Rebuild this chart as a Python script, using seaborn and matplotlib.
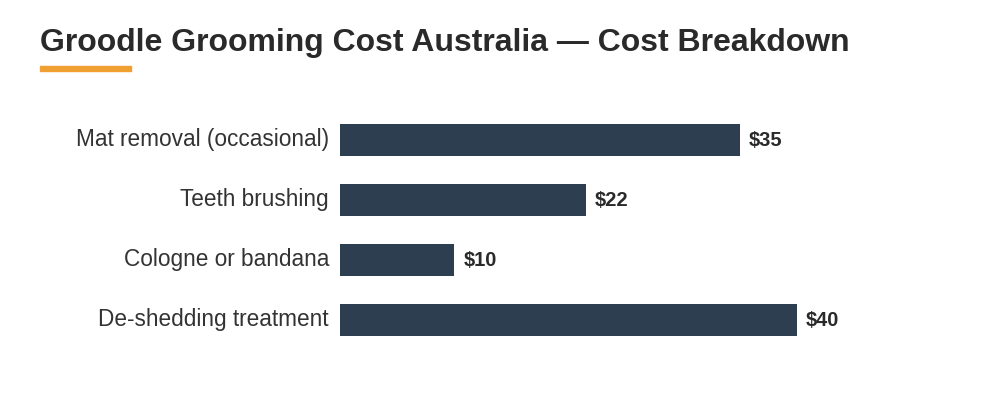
import matplotlib
matplotlib.use('Agg')
import matplotlib.pyplot as plt
import matplotlib.transforms as mtransforms
import seaborn as sns
import pandas as pd

# chart data
services = ['Mat removal (occasional)', 'Teeth brushing', 'Cologne or bandana', 'De-shedding treatment']
costs = [35, 21.5, 10, 40]
value_labels = ['$35', '$22', '$10', '$40']
title = 'Groodle Grooming Cost Australia \u2014 Cost Breakdown'

sns.set_theme(style='white')
plt.rcParams['font.family'] = ['Liberation Sans', 'DejaVu Sans']

df = pd.DataFrame({'service': services, 'cost': costs})

fig = plt.figure(figsize=(10, 4), dpi=100)
ax = fig.add_axes([0.34, 0.125, 0.60, 0.60])

sns.barplot(data=df, x='cost', y='service', color='#2c3e50', saturation=1,
            width=0.54, linewidth=0, ax=ax)

ax.set_xlim(0, 52.5)
ax.set_ylim(3.5, -0.5)
ax.set_xlabel('')
ax.set_ylabel('')
ax.set_xticks([])
ax.tick_params(axis='y', length=0, pad=8, labelsize=16.3, labelcolor='#333333')
for s in ax.spines.values():
    s.set_visible(False)

# nudge category labels up a little
shift = mtransforms.ScaledTranslation(0, 3 / 100, fig.dpi_scale_trans)
for lbl in ax.get_yticklabels():
    lbl.set_transform(lbl.get_transform() + shift)

for i, (c, lab) in enumerate(zip(costs, value_labels)):
    ax.annotate(lab, (c, i), xytext=(9, -1), textcoords='offset pixels',
                va='center', ha='left', fontsize=14.5, fontweight='bold',
                color='#2a2a2a')

fig.text(0.04, 0.893, title, fontsize=23, fontweight='bold', color='#2a2a2a',
         ha='left', va='center')
fig.patches.append(plt.Rectangle((0.04, 0.823), 0.091, 0.0115,
                                 transform=fig.transFigure, color='#f0a030',
                                 figure=fig))

fig.savefig('out.png', dpi=100)
